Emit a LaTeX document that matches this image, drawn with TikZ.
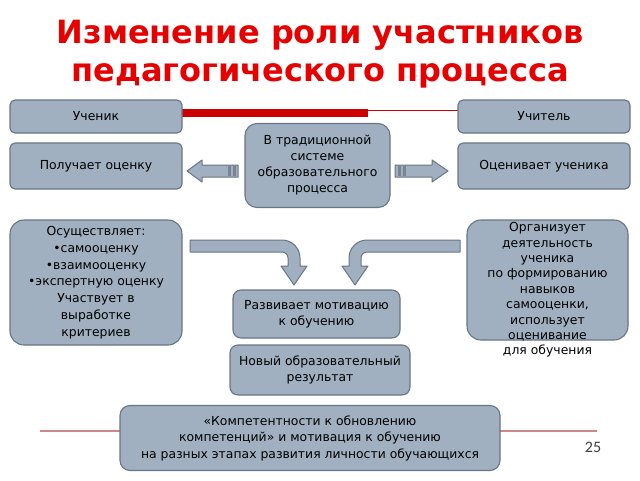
\documentclass[tikz,border=0pt]{standalone}
\usepackage{fontspec}
\setmainfont{DejaVu Sans}
\newfontfamily\numfont{Carlito}
\definecolor{boxfill}{RGB}{160,176,192}
\definecolor{boxdraw}{RGB}{105,118,132}
\definecolor{titlered}{RGB}{230,0,0}
\definecolor{barred}{RGB}{204,0,0}
\definecolor{linered}{RGB}{205,135,135}
\definecolor{stripe}{RGB}{120,132,146}
\tikzset{
  box/.style={draw=boxdraw, fill=boxfill, line width=1.1pt, rounded corners=5pt,
    align=center, inner sep=0pt, font=\fontsize{12.4}{16}\selectfont},
  bigbox/.style={box, rounded corners=14pt},
  plain/.style={align=center, inner sep=0pt, font=\fontsize{12.4}{15.4}\selectfont},
  blockarrow/.style={draw=boxdraw, fill=boxfill, line width=1pt, line join=round},
  stripes/.style={fill=stripe, draw=none}
}
\begin{document}
\begin{tikzpicture}[x=1pt,y=-1pt]
\useasboundingbox (0,0) rectangle (640,480);
\fill[white] (0,0) rectangle (640,480);
% title
\node[titlered, font=\fontsize{32}{37.5}\selectfont\bfseries, align=center] (title) at (320,54)
  {Изменение роли участников\\педагогического процесса};
% red lines
\coordinate (bs) at (182,109);
\coordinate (be) at (368,117);
\fill[barred] (bs) rectangle (be);
\coordinate (ts) at (368,110.5);
\coordinate (te) at (458,110.5);
\draw[barred, line width=0.6pt] (ts) -- (te);
\coordinate (ls) at (40,431);
\coordinate (le) at (597,431);
\draw[linered, line width=1.6pt] (ls) -- (le);
% boxes
\node[box, minimum width=172pt, minimum height=33pt] (uchenik) at (96,116.5) {Ученик};
\node[box, minimum width=172pt, minimum height=33pt] (uchitel) at (544,116.5) {Учитель};
\node[box, minimum width=172pt, minimum height=46pt] (poluch) at (96,166) {Получает оценку};
\node[box, minimum width=172pt, minimum height=46pt] (ocen) at (544,166) {Оценивает ученика};
\node[box, rounded corners=12pt, minimum width=145pt, minimum height=84pt] (trad) at (317.5,165.5)
  {В традиционной\\системе\\образовательного\\процесса};
\node[bigbox, minimum width=172pt, minimum height=125pt, font=\fontsize{12.4}{16.8}\selectfont] (osush) at (96,282.5)
  {Осуществляет:\\•самооценку\\•взаимооценку\\•экспертную оценку\\Участвует в\\выработке\\критериев};
\node[bigbox, minimum width=161pt, minimum height=120pt] (orgbox) at (547.5,280) {};
\node[plain] (orgtext) at (547.5,290)
  {Организует\\деятельность\\ученика\\по формированию\\навыков\\самооценки,\\использует\\оценивание\\для обучения};
\node[box, rounded corners=8pt, minimum width=167pt, minimum height=48pt] (razv) at (316.5,314)
  {Развивает мотивацию\\к обучению};
\node[box, rounded corners=8pt, minimum width=180pt, minimum height=50pt] (novy) at (320,370)
  {Новый образовательный\\результат};
\node[box, rounded corners=10pt, minimum width=380pt, minimum height=65pt, font=\fontsize{12.4}{16.5}\selectfont] (bottom) at (310,438)
  {«Компетентности к обновлению\\компетенций» и мотивация к обучению\\на разных этапах развития личности обучающихся};
% straight block arrows
\draw[blockarrow] (187,171) -- (202,160) -- (202,165) -- (238,165) -- (238,177) -- (202,177) -- (202,182) -- cycle;
\fill[stripes] (227.5,165.6) rectangle (230.5,176.4);
\fill[stripes] (232.5,165.6) rectangle (235.5,176.4);
\draw[blockarrow] (448,171) -- (432,160) -- (432,165) -- (395,165) -- (395,177) -- (432,177) -- (432,182) -- cycle;
\fill[stripes] (397.5,165.6) rectangle (400.5,176.4);
\fill[stripes] (402.5,165.6) rectangle (405.5,176.4);
% bent arrows
\draw[blockarrow] (190,240) -- (282,240) .. controls (292,240) and (300,248) .. (300,258)
  -- (300,266) -- (307,266) -- (294,285) -- (281,266) -- (288,266) -- (288,258)
  .. controls (288,254.7) and (285.3,252) .. (282,252) -- (190,252) -- cycle;
\draw[blockarrow] (460,240) -- (367,240) .. controls (357,240) and (349,248) .. (349,258)
  -- (349,266) -- (342,266) -- (355,285) -- (368,266) -- (361,266) -- (361,258)
  .. controls (361,254.7) and (363.7,252) .. (367,252) -- (460,252) -- cycle;
% page number
\node[font=\numfont\fontsize{16}{18}\selectfont, text=black!75] (pnum) at (593,447) {25};
\end{tikzpicture}
\end{document}
